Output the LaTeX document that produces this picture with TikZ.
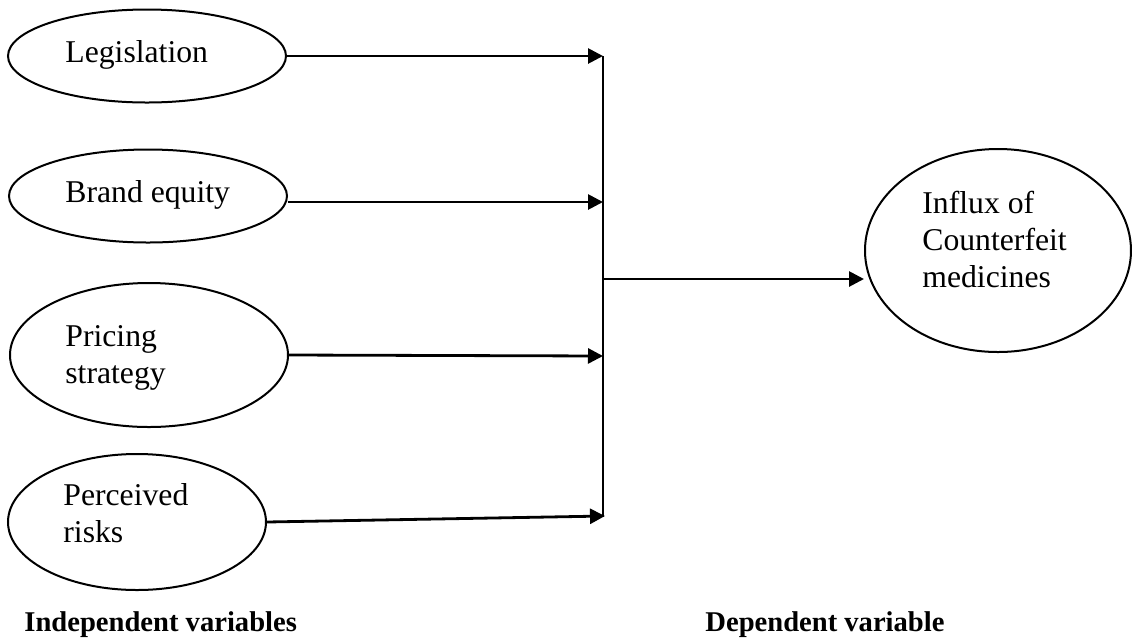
\documentclass[tikz,border=0pt]{standalone}
\usepackage{fontspec}
\setmainfont{Liberation Serif}
\usetikzlibrary{shapes.geometric,arrows.meta}

\begin{document}
\begin{tikzpicture}[x=0.5pt,y=-0.5pt,
  var/.style={draw, ellipse, line width=1pt, inner sep=0pt},
  txt/.style={anchor=base west, inner sep=0pt, align=left, font=\fontsize{15.85}{18.5}\selectfont},
  head/.style={anchor=base west, inner sep=0pt, font=\fontsize{14.3}{16}\selectfont\bfseries},
  conn/.style={line width=1.4pt, -{Triangle[length=7.5pt,width=7.5pt]}}]
  \useasboundingbox (0,0) rectangle (1132,639);
  % independent variables
  \node[var, minimum width=139pt, minimum height=46.5pt] (legis) at (147,56) {};
  \node[var, minimum width=139pt, minimum height=46.5pt] (brand) at (148,196) {};
  \node[var, minimum width=139pt, minimum height=72pt] (price) at (149,355) {};
  \node[var, minimum width=129pt, minimum height=68pt] (perc) at (137,522) {};
  % dependent variable
  \node[var, minimum width=133pt, minimum height=101.5pt] (influx) at (998,250.5) {};
  % texts (base = last line)
  \node[txt] (legis-t) at (65,62) {Legislation};
  \node[txt] (brand-t) at (65,202) {Brand equity};
  \node[txt] (price-t) at (65,383) {Pricing\\strategy};
  \node[txt] (perc-t) at (63,542) {Perceived\\risks};
  \node[txt] (influx-t) at (922,287) {Influx of\\Counterfeit\\medicines};
  \node[head] (indep) at (24,631) {Independent variables};
  \node[head] (dep) at (705,631) {Dependent variable};
  % joining line
  \coordinate (j1) at (603,56);
  \coordinate (j2) at (603,202);
  \coordinate (j3) at (603,356);
  \coordinate (j4) at (605,516);
  \coordinate (jb) at (603,517);
  \coordinate (jm) at (603,279);
  \draw[line width=1.4pt] (j1) -- (jb);
  \draw[conn] (legis.east) -- (j1);
  \draw[conn] (brand.east |- j2) -- (j2);
  \draw[conn] (price.east) -- (j3);
  \draw[conn] (perc.east) -- (j4);
  \draw[conn] (jm) -- (jm -| influx.west);
\end{tikzpicture}
\end{document}
